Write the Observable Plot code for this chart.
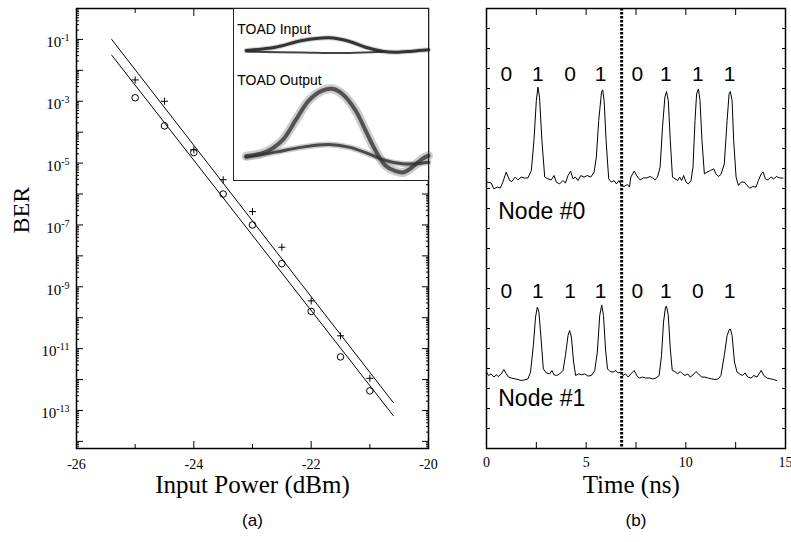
<!DOCTYPE html>
<html><head><meta charset="utf-8">
<script src="https://cdn.jsdelivr.net/npm/d3@7"></script>
<script src="https://cdn.jsdelivr.net/npm/@observablehq/plot@0.6"></script>
<style>
body{margin:0;background:#fff;}
#fig{position:relative;width:791px;height:542px;overflow:hidden;background:#fff;}
#fig svg{position:absolute;overflow:visible;}
</style></head><body><div id="fig"></div>
<script>
// ---------- (a) BER vs input power ----------
const powerDbm  = [-25, -24.5, -24, -23.5, -23, -22.5, -22, -21.5, -21];
const berCross  = [4.9e-3, 1.0e-3, 2.7e-5, 2.9e-6, 2.7e-7, 1.9e-8, 3.5e-10, 2.6e-11, 1.1e-12];
const berCircle = [1.3e-3, 1.6e-4, 2.2e-5, 1.0e-6, 1.0e-7, 5.6e-9, 1.6e-10, 5.4e-12, 4.3e-13];
const fitPower  = [-25.4, -20.6];
const fitUpper  = [1e-1, 1.8e-13];
const fitLower  = [3.1e-2, 6.8e-14];
const xTickLabels = [-26, -24, -22, -20];
const xTickMinor  = [-25, -23, -21];
const yDecades    = [-14, -13, -12, -11, -10, -9, -8, -7, -6, -5, -4, -3, -2, -1, 0];
const yLabelExps  = [-1, -3, -5, -7, -9, -11, -13];

// inset eye diagrams (arbitrary units)
const inputOneX  = [6.5, 21.5, 35.2, 48.9, 59.1, 67.7, 76.3, 83.1, 91.6, 100];
const inputOneY  = [75.6, 77.5, 81.4, 83.0, 81.0, 77.5, 75.2, 74.6, 75.2, 76.0];
const inputZeroX = [6.5, 35.2, 59.1, 76.3];
const inputZeroY = [75.0, 74.4, 74.1, 74.8];
const outputOneX = [6.5, 16.4, 25.0, 31.8, 38.6, 45.5, 50.6, 55.7, 62.6, 67.7, 72.8, 77.9, 83.1, 87.3, 91.6, 96.8, 100];
const outputOneY = [14.1, 16.5, 23.3, 34.9, 46.5, 52.3, 53.3, 50.4, 40.7, 29.1, 17.4, 8.7, 5.4, 4.8, 7.7, 12.6, 14.5];
const outputZeroX = [6.5, 21.5, 35.2, 48.9, 59.1, 69.4, 77.9, 86.5, 93.3, 100];
const outputZeroY = [13.5, 16.5, 19.4, 20.9, 19.4, 15.5, 11.6, 9.7, 9.7, 10.6];
const insetLabels = ["TOAD Input", "TOAD Output"];
const insetLabelX = [1.9, 1.9];
const insetLabelY = [87.9, 58.3];

// ---------- (b) time traces ----------
const node0Time = [0.03,0.23,0.37,0.54,0.70,0.82,0.99,1.16,1.27,1.44,1.58,1.74,1.91,2.08,2.25,2.38,2.50,2.58,2.66,2.78,2.92,3.08,3.25,3.39,3.50,3.67,3.84,3.96,4.09,4.22,4.34,4.46,4.59,4.73,4.89,5.06,5.23,5.40,5.51,5.63,5.77,5.83,5.90,6.00,6.13,6.27,6.40,6.52,6.64,6.77,6.90,7.07,7.17,
  7.24,7.41,7.58,7.71,7.88,8.04,8.21,8.33,8.45,8.58,8.71,8.83,8.95,9.03,9.12,9.22,9.33,9.47,9.59,9.69,9.79,9.89,10.01,10.12,10.26,10.36,10.46,10.54,10.63,10.71,10.81,10.93,11.06,11.23,11.40,11.51,11.63,11.76,11.93,12.07,12.17,12.23,12.32,12.40,12.52,12.64,12.77,12.94,13.07,13.21,13.36,13.52,13.64,13.78,13.88,13.99,14.11,14.28,14.41,14.55,14.70,14.87];
const node0Signal = [13.32,13.28,12.98,13.07,13.03,13.32,13.82,13.40,13.35,13.57,13.43,13.57,13.52,13.53,13.90,15.40,17.40,18.07,17.57,15.40,13.57,13.48,13.43,13.65,13.32,13.23,13.40,13.27,13.65,13.87,13.48,13.57,13.40,13.65,13.57,13.65,13.57,13.82,14.57,16.40,17.82,17.93,17.40,15.40,13.48,13.32,13.40,13.23,13.40,13.15,13.10,13.20,13.07,
  13.57,13.87,13.57,13.43,13.53,13.53,13.60,13.53,13.43,13.57,14.07,16.07,17.57,17.85,17.40,15.40,13.57,13.48,13.40,13.57,13.40,13.65,13.32,13.23,13.40,14.07,16.40,17.73,17.98,17.40,15.40,13.73,13.82,13.90,13.98,13.73,13.60,13.70,14.23,16.40,17.73,17.85,17.40,15.40,13.57,13.15,13.32,13.32,13.15,13.02,13.10,13.07,13.40,13.73,13.82,13.48,13.43,13.57,13.48,13.60,13.53,13.52];
const node1Time = [0.0,0.10,0.23,0.37,0.49,0.60,0.74,0.87,0.99,1.11,1.27,1.44,1.58,1.74,1.91,2.08,2.21,2.35,2.46,2.55,2.63,2.75,2.85,3.00,3.17,3.28,3.39,3.52,3.67,3.84,3.96,4.09,4.17,4.26,4.37,4.47,4.63,4.76,4.93,5.09,5.26,5.43,5.56,5.68,5.78,5.87,5.97,6.07,6.20,6.35,6.49,6.60,6.74,6.85,6.97,7.11,
  7.24,7.41,7.54,7.66,7.83,7.99,8.16,8.33,8.50,8.66,8.78,8.88,8.98,9.03,9.12,9.22,9.32,9.45,9.59,9.72,9.84,9.96,10.09,10.22,10.36,10.51,10.64,10.79,10.96,11.13,11.30,11.46,11.63,11.76,11.93,12.07,12.17,12.23,12.32,12.44,12.57,12.70,12.84,12.97,13.11,13.27,13.41,13.57,13.78,13.91,14.08,14.25,14.41,14.55];
const node1Signal = [3.82,3.65,3.73,3.57,3.68,3.60,3.73,3.95,3.73,3.57,3.52,3.48,3.45,3.40,3.43,3.48,3.82,5.15,6.57,7.07,6.82,5.32,3.98,3.78,3.73,3.90,3.68,3.65,3.73,3.90,4.65,5.65,5.90,5.57,4.32,3.65,3.73,3.68,3.73,3.62,3.65,3.90,4.82,6.65,7.18,6.65,4.98,3.98,3.85,3.82,3.90,3.78,3.82,3.65,3.73,3.57,
  3.73,3.90,3.65,3.52,3.57,3.52,3.53,3.48,3.52,3.65,4.65,6.32,7.07,7.12,6.65,4.98,3.90,3.85,3.73,3.85,3.73,3.65,3.73,3.57,3.68,3.85,3.73,3.57,3.57,3.52,3.48,3.45,3.48,3.65,4.65,5.65,5.92,5.98,5.65,4.32,3.82,3.73,3.65,3.78,3.57,3.52,3.65,3.57,3.90,3.65,3.52,3.48,3.45,3.40];
const bitTimes  = [1.0, 2.58, 4.19, 5.73, 7.57, 9.0, 10.6, 12.2];
const node0Bits = ["0","1","0","1","0","1","1","1"];
const node1Bits = ["0","1","1","1","0","1","0","1"];
const bitLabelY = [18.73, 7.87];
const nodeLabels = ["Node #0", "Node #1"];
const nodeLabelT = [0.59, 0.59];
const nodeLabelY = [11.86, 2.48];
const frameBoundary = [6.78];
const timeTicks = [0, 2.5, 5, 7.5, 10, 12.5, 15];
const timeLabels = [0, 5, 10, 15];
const signalTicks = d3.range(1, 22);

const zip = (xs, ys) => xs.map((x, i) => ({x, y: ys[i]}));
const SERIF = "Liberation Serif, Times New Roman, serif";
const SANS = "Liberation Sans, Arial, sans-serif";
const fig = document.getElementById("fig");

// ---------- left panel ----------
const berRows = powerDbm.map((p, i) => ({p, cross: berCross[i], circle: berCircle[i]}));
const decadeVals = yDecades.map(e => 10 ** e);
const minorVals = d3.range(-15, 1).flatMap(e => d3.range(2, 10).map(m => m * 10 ** e)).filter(v => v > 10 ** -14.23 && v < 1);

const left = Plot.plot({
  width: 440, height: 542,
  marginLeft: 76, marginRight: 12, marginTop: 8, marginBottom: 94,
  x: {domain: [-26, -20]},
  y: {type: "log", domain: [10 ** -14.23, 1]},
  style: {background: "transparent"},
  marks: [
    Plot.axisX({anchor: "bottom", ticks: xTickLabels, tickSize: 7, dy: -7, fill: "none", label: null}),
    Plot.axisX({anchor: "bottom", ticks: xTickMinor, tickSize: 4, dy: -4, fill: "none", label: null}),
    Plot.axisX({anchor: "top", ticks: xTickLabels, tickSize: 7, dy: 7, fill: "none", label: null}),
    Plot.axisX({anchor: "top", ticks: xTickMinor, tickSize: 4, dy: 4, fill: "none", label: null}),
    Plot.axisX({anchor: "bottom", ticks: xTickLabels, tickSize: 0, tickPadding: 11, fontSize: 14, fontFamily: SERIF, tickFormat: d => String(d), label: null}),
    Plot.axisY({anchor: "left", ticks: decadeVals, tickSize: 7, dx: 7, fill: "none", label: null}),
    Plot.axisY({anchor: "left", ticks: minorVals, tickSize: 3, dx: 3, fill: "none", label: null}),
    Plot.axisY({anchor: "right", ticks: decadeVals, tickSize: 7, dx: -7, fill: "none", label: null}),
    Plot.axisY({anchor: "right", ticks: minorVals, tickSize: 3, dx: -3, fill: "none", label: null}),
    Plot.axisY({anchor: "left", ticks: yLabelExps.map(e => 10 ** e), tickSize: 0, tickPadding: 7, dy: 3, fontSize: 15, fontFamily: SERIF, tickFormat: d => String(Math.round(Math.log10(d))), label: null}),
    Plot.frame({strokeWidth: 1.5}),
    Plot.line(zip(fitPower, fitUpper), {x: "x", y: "y", stroke: "black", strokeWidth: 1}),
    Plot.line(zip(fitPower, fitLower), {x: "x", y: "y", stroke: "black", strokeWidth: 1}),
    Plot.dot(berRows, {x: "p", y: "cross", symbol: "plus", r: 2.4, stroke: "black", fill: "none", strokeWidth: 1}),
    Plot.dot(berRows, {x: "p", y: "circle", r: 3.3, stroke: "black", fill: "none", strokeWidth: 1}),
    Plot.text(["Input Power (dBm)"], {frameAnchor: "bottom", dy: 44.7, fontSize: 25, fontFamily: SERIF, fill: "black"}),
    Plot.text(["(a)"], {frameAnchor: "bottom", dy: 77.5, fontSize: 17, fontFamily: SANS, fill: "black"}),
    Plot.text(["BER"], {frameAnchor: "left", dx: -55.5, dy: 5, rotate: -90, fontSize: 24, fontFamily: SERIF, fill: "black"})
  ]
});
d3.select(left).selectAll('g[aria-label="y-axis tick label"] text').each(function () {
  const e = this.textContent;
  this.textContent = "";
  const t = d3.select(this);
  t.append("tspan").text("10");
  t.append("tspan").attr("dy", "-0.6em").attr("font-size", "10px").text(e);
});
left.style.left = "0px"; left.style.top = "0px";
fig.appendChild(left);

// ---------- right panel ----------
const right = Plot.plot({
  width: 351, height: 542,
  marginLeft: 46, marginRight: 6, marginTop: 8, marginBottom: 94,
  x: {domain: [0, 15]},
  y: {domain: [0, 22]},
  style: {background: "transparent"},
  marks: [
    Plot.axisX({anchor: "bottom", ticks: timeTicks, tickSize: 6, dy: -6, fill: "none", label: null}),
    Plot.axisX({anchor: "top", ticks: timeTicks, tickSize: 6, dy: 6, fill: "none", label: null}),
    Plot.axisX({anchor: "bottom", ticks: timeLabels, tickSize: 0, tickPadding: 9, fontSize: 14, fontFamily: SERIF, tickFormat: d => String(d), label: null}),
    Plot.axisY({anchor: "left", ticks: signalTicks, tickSize: 4, dx: 4, fill: "none", label: null}),
    Plot.axisY({anchor: "right", ticks: signalTicks, tickSize: 4, dx: -4, fill: "none", label: null}),
    Plot.frame({strokeWidth: 1.5}),
    Plot.line(zip(node0Time, node0Signal), {x: "x", y: "y", stroke: "black", strokeWidth: 1}),
    Plot.line(zip(node1Time, node1Signal), {x: "x", y: "y", stroke: "black", strokeWidth: 1}),
    Plot.ruleX(frameBoundary, {stroke: "black", strokeWidth: 3, strokeDasharray: "2.5,1.5"}),
    Plot.text(node0Bits, {x: (d, i) => bitTimes[i], y: bitLabelY[0], text: d => d, fontSize: 21, fontFamily: SANS, fill: "black"}),
    Plot.text(node1Bits, {x: (d, i) => bitTimes[i], y: bitLabelY[1], text: d => d, fontSize: 21, fontFamily: SANS, fill: "black"}),
    Plot.text(nodeLabels, {x: (d, i) => nodeLabelT[i], y: (d, i) => nodeLabelY[i], text: d => d, textAnchor: "start", fontSize: 23, fontFamily: SANS, fill: "black"}),
    Plot.text(["Time (ns)"], {frameAnchor: "bottom", dx: -4.8, dy: 44, fontSize: 25, fontFamily: SERIF, fill: "black"}),
    Plot.text(["(b)"], {frameAnchor: "bottom", dy: 77.5, fontSize: 17, fontFamily: SANS, fill: "black"})
  ]
});
right.style.left = "440px"; right.style.top = "0px";
fig.appendChild(right);

// ---------- inset ----------
const inset = Plot.plot({
  width: 195, height: 172,
  margin: 0,
  x: {domain: [0, 100], axis: null},
  y: {domain: [0, 100], axis: null},
  style: {background: "white"},
  marks: [
    Plot.line(zip(outputOneX, outputOneY), {x: "x", y: "y", curve: "catmull-rom", stroke: "#999", strokeWidth: 9, strokeOpacity: 0.5}),
    Plot.line(zip(outputZeroX, outputZeroY), {x: "x", y: "y", curve: "catmull-rom", stroke: "#999", strokeWidth: 6, strokeOpacity: 0.5}),
    Plot.line(zip(inputOneX, inputOneY), {x: "x", y: "y", curve: "catmull-rom", stroke: "#999", strokeWidth: 5, strokeOpacity: 0.45}),
    Plot.line(zip(outputOneX, outputOneY), {x: "x", y: "y", curve: "catmull-rom", stroke: "#333", strokeWidth: 4, strokeOpacity: 0.8}),
    Plot.line(zip(outputZeroX, outputZeroY), {x: "x", y: "y", curve: "catmull-rom", stroke: "#333", strokeWidth: 3, strokeOpacity: 0.85}),
    Plot.line(zip(inputOneX, inputOneY), {x: "x", y: "y", curve: "catmull-rom", stroke: "#222", strokeWidth: 3, strokeOpacity: 0.9}),
    Plot.line(zip(inputZeroX, inputZeroY), {x: "x", y: "y", curve: "catmull-rom", stroke: "#222", strokeWidth: 2, strokeOpacity: 0.85}),
    Plot.text(insetLabels, {x: (d, i) => insetLabelX[i], y: (d, i) => insetLabelY[i], text: d => d, textAnchor: "start", fontSize: 14, fontFamily: SANS, fill: "black"}),
    Plot.frame({stroke: "#222", strokeWidth: 1})
  ]
});
inset.style.left = "233px"; inset.style.top = "8px";
fig.appendChild(inset);
</script></body></html>
